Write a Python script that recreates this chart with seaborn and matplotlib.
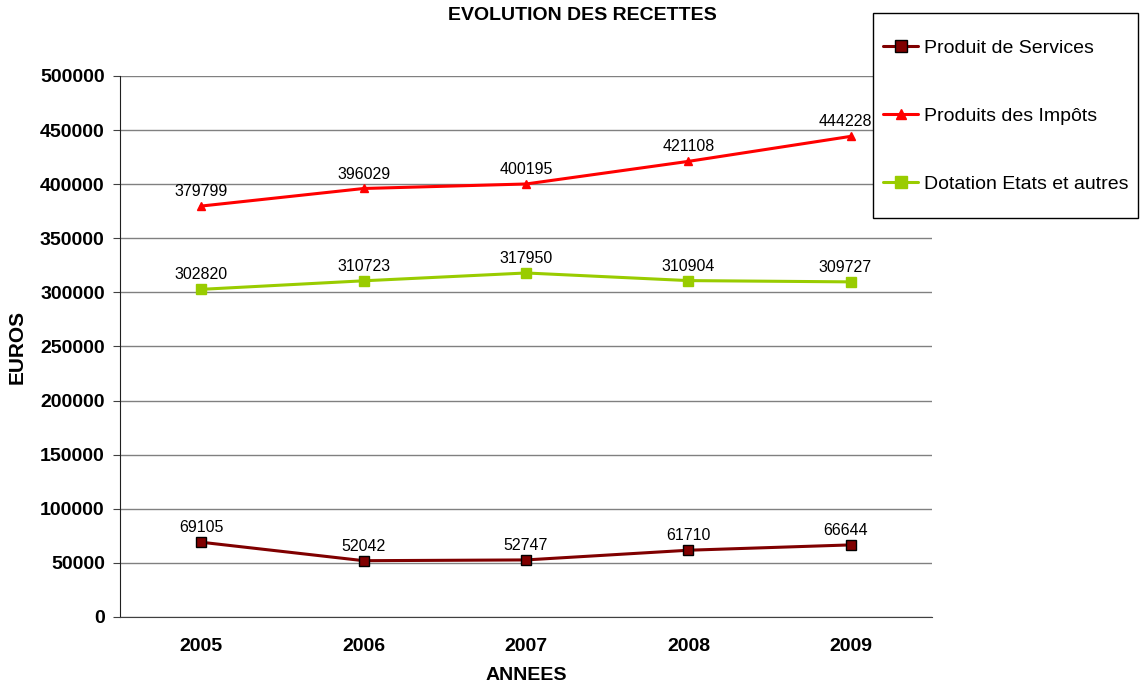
import numpy as np
import pandas as pd
import matplotlib
matplotlib.use("Agg")
import matplotlib.pyplot as plt
import matplotlib.patches as patches
import seaborn as sns

years = ['2005', '2006', '2007', '2008', '2009']
services = [69105, 52042, 52747, 61710, 66644]
impots = [379799, 396029, 400195, 421108, 444228]
dotation = [302820, 310723, 317950, 310904, 309727]

series_names = ['Produit de Services', 'Produits des Impôts', 'Dotation Etats et autres']
series_values = [services, impots, dotation]
colors = ['#800000', '#FF0000', '#99CC00']
markers = ['s', '^', 's']
edges = ['black', '#FF0000', '#99CC00']

sns.set_style('white')
plt.rcParams['font.family'] = ['Liberation Sans', 'DejaVu Sans']
plt.rcParams['text.color'] = 'black'
plt.rcParams['axes.labelcolor'] = 'black'
plt.rcParams['xtick.color'] = 'black'
plt.rcParams['ytick.color'] = 'black'

fig = plt.figure(figsize=(11.4, 6.89), dpi=100)
ax = fig.add_axes([0.1053, 0.1045, 0.7123, 0.7852])

x = np.arange(len(years))
for name, vals, col, mk, ec in zip(series_names, series_values, colors, markers, edges):
    df = pd.DataFrame({'x': x, 'y': vals})
    sns.lineplot(data=df, x='x', y='y', ax=ax, color=col, linewidth=2.2,
                 marker=mk, markersize=7 if mk == 's' else 6,
                 markerfacecolor=col, markeredgecolor=ec, markeredgewidth=1.0,
                 label=name, legend=False)
    for xi, v in zip(x, vals):
        # last label nudged left a bit so it stays clear of the legend box
        dx = -4 if xi == x[-1] else 0
        ax.annotate(str(v), (xi, v), xytext=(dx, 5), textcoords='offset points',
                    ha='center', va='bottom', fontsize=11.5)

ax.set_xlim(-0.5, len(years) - 0.5)
ax.set_ylim(0, 500000)
ax.set_yticks(np.arange(0, 500001, 50000))
ax.set_yticklabels([str(v) for v in range(0, 500001, 50000)], fontsize=14, fontweight='bold')
ax.set_xticks(x)
ax.set_xticklabels(years, fontsize=14, fontweight='bold')
ax.set_xticks(np.arange(-0.5, len(years), 1), minor=True)
ax.tick_params(axis='x', which='major', length=0, pad=15)
ax.tick_params(axis='x', which='minor', length=5, direction='out', color='#404040')
ax.tick_params(axis='y', length=5, direction='out', color='#404040', left=True, pad=6)

ax.yaxis.grid(True, color='#808080', linewidth=1)
ax.set_axisbelow(True)
for s in ['top', 'right']:
    ax.spines[s].set_visible(False)
ax.spines['left'].set_color('#202020')
ax.spines['bottom'].set_color('#404040')

ax.set_xlabel('ANNEES', fontsize=14, fontweight='bold', labelpad=9)
ax.set_ylabel('EUROS', fontsize=15, fontweight='bold', labelpad=10)
fig.text(0.5105, 0.978, 'EVOLUTION DES RECETTES', ha='center', va='center',
         fontsize=14, fontweight='bold')

# legend box drawn in figure coordinates, white so it hides the gridlines beneath
fig.patches.append(patches.Rectangle((873 / 1140, 1 - 218 / 689), 265 / 1140, 205 / 689,
                                     transform=fig.transFigure, facecolor='white',
                                     edgecolor='black', linewidth=1.0, zorder=3))
h, l = ax.get_legend_handles_labels()
leg = fig.legend(h, l, loc='center left', bbox_to_anchor=(883 / 1140, 1 - 116 / 689),
                 fontsize=14, frameon=False, labelspacing=2.6, handlelength=1.8,
                 handletextpad=0.3, borderpad=0, borderaxespad=0, markerscale=1.3)
leg.set_zorder(5)

fig.savefig('out.png', dpi=100)
